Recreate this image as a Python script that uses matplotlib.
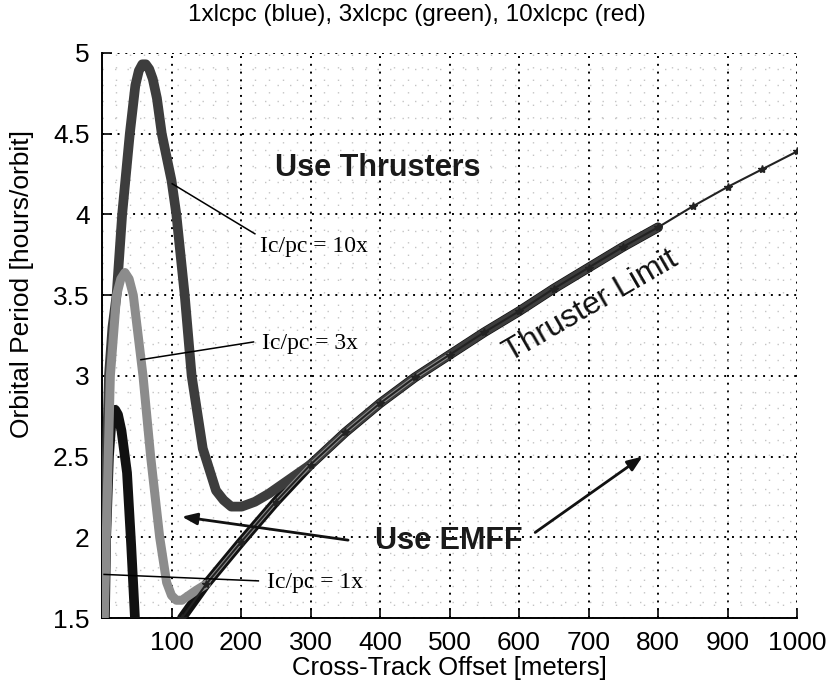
import matplotlib
matplotlib.use('Agg')
import matplotlib.pyplot as plt
import numpy as np
from matplotlib.ticker import MultipleLocator

# thruster limit line (cross-track offset [m], period [hours/orbit])
thrust_x = np.array([115, 150, 200, 250, 300, 350, 400, 450, 500, 550, 600, 650, 700, 750, 800, 850, 900, 950, 1000])
thrust_y = np.array([1.50, 1.71, 1.97, 2.22, 2.45, 2.65, 2.83, 2.99, 3.13, 3.27, 3.40, 3.54, 3.67, 3.80, 3.92, 4.05, 4.17, 4.28, 4.39])

# Ic/pc = 1x (blue) - hump near the y axis
one_x = np.array([4, 6, 10, 13, 16, 19, 23, 28, 36, 42, 48])
one_y = np.array([1.45, 2.0, 2.5, 2.68, 2.76, 2.79, 2.76, 2.66, 2.4, 1.95, 1.45])

# Ic/pc = 3x (green)
three_x = np.array([3, 9, 12, 21, 27, 33, 39, 45, 59, 70, 83, 93, 100, 107, 115, 125, 135, 150])
three_y = np.array([1.45, 2.5, 3.0, 3.5, 3.6, 3.64, 3.6, 3.5, 3.0, 2.5, 2.0, 1.72, 1.64, 1.61, 1.61, 1.64, 1.67, 1.71])

# Ic/pc = 10x (red)
ten_x = np.array([2, 7, 10, 15, 21, 29, 40, 48, 53, 58, 63, 68, 73, 79, 86, 100, 107, 119, 129, 145,
                  164, 175, 186, 201, 220, 240, 260, 280, 300])
ten_y = np.array([1.45, 2.5, 3.0, 3.3, 3.5, 4.0, 4.5, 4.8, 4.89, 4.93, 4.93, 4.9, 4.84, 4.72, 4.5, 4.21,
                  4.0, 3.5, 3.0, 2.55, 2.29, 2.23, 2.19, 2.19, 2.22, 2.27, 2.33, 2.39, 2.45])

x_ticks = [100, 200, 300, 400, 500, 600, 700, 800, 900, 1000]
y_ticks = [1.5, 2, 2.5, 3, 3.5, 4, 4.5, 5]
y_tick_labels = ['1.5', '2', '2.5', '3', '3.5', '4', '4.5', '5']

arial = ['Liberation Sans', 'DejaVu Sans']
times = ['Liberation Serif', 'DejaVu Serif']

fig = plt.figure(figsize=(8.27, 6.90), dpi=100)
ax = fig.add_axes([102 / 827, 72 / 690, 695 / 827, 565 / 690])

# curves follow the thruster limit once they meet it
tail1 = (thrust_x >= 115) & (thrust_x <= 800)
tail3 = (thrust_x >= 150) & (thrust_x <= 500)
tail10 = (thrust_x >= 300) & (thrust_x <= 800)

kw = dict(solid_capstyle='round', solid_joinstyle='round')
ax.plot(one_x, one_y, color='#111111', lw=7, zorder=3, **kw)
ax.plot(thrust_x[tail1], thrust_y[tail1], color='#111111', lw=7, zorder=3, **kw)
ax.plot(ten_x, ten_y, color='#3d3d3d', lw=7, zorder=4, **kw)
ax.plot(thrust_x[tail10], thrust_y[tail10], color='#3d3d3d', lw=6, zorder=4, **kw)
ax.plot(three_x, three_y, color='#8c8c8c', lw=6.5, zorder=5, **kw)
ax.plot(thrust_x[tail3], thrust_y[tail3], color='#8c8c8c', lw=3, zorder=5, **kw)
ax.plot(thrust_x, thrust_y, color='#222222', lw=1.5, marker='*', ms=6, zorder=6)

ax.set_xlim(0, 1000)
ax.set_ylim(1.5, 5)
ax.set_xticks(x_ticks)
ax.set_yticks(y_ticks)
ax.set_yticklabels(y_tick_labels)
ax.xaxis.set_minor_locator(MultipleLocator(20))
ax.yaxis.set_minor_locator(MultipleLocator(0.1))
ax.tick_params(which='major', direction='in', length=7, width=1.2, top=False, right=False,
               labelsize=19, pad=9)
ax.tick_params(which='minor', length=0)
for lab in ax.get_xticklabels() + ax.get_yticklabels():
    lab.set_family(arial)

ax.grid(which='minor', color='#c4c4c4', linestyle=(0, (1, 8)), lw=1.0)
ax.grid(which='major', color='black', linestyle=(0, (1, 3)), lw=1.4)
ax.set_axisbelow(True)
for s in ['top', 'right']:
    ax.spines[s].set_visible(False)
for s in ['left', 'bottom']:
    ax.spines[s].set_linewidth(1.4)

fig.text(417 / 827, 1 - 15 / 690, '1xlcpc (blue), 3xlcpc (green), 10xlcpc (red)',
         ha='center', va='center', fontsize=17.5, family=arial)
fig.text(449 / 827, 1 - 668 / 690, 'Cross-Track Offset [meters]',
         ha='center', va='center', fontsize=18.5, family=arial)
fig.text(22 / 827, 1 - 284 / 690, 'Orbital Period [hours/orbit]', rotation=90,
         ha='center', va='center', fontsize=19, family=arial)

# region labels
ax.text(397, 4.29, 'Use Thrusters', ha='center', va='center', fontsize=22,
        fontweight='bold', family=arial, color='#1a1a1a', zorder=7)
ax.text(499, 1.98, 'Use EMFF', ha='center', va='center', fontsize=22,
        fontweight='bold', family=arial, color='#1a1a1a', zorder=7)
ax.text(703, 3.43, 'Thruster Limit', ha='center', va='center', fontsize=23,
        rotation=30, family=arial, color='#111111', zorder=7)

arrow = dict(arrowstyle='-|>,head_length=0.9,head_width=0.35', color='#111111', lw=2)
ax.annotate('', xy=(111, 2.13), xytext=(358, 1.98), arrowprops=arrow, zorder=7)
ax.annotate('', xy=(781, 2.51), xytext=(620, 2.02), arrowprops=arrow, zorder=7)

# curve callouts
ax.plot([101, 220], [4.19, 3.88], color='black', lw=1.1, zorder=7)
ax.text(227, 3.80, 'Ic/pc = 10x', ha='left', va='center', fontsize=17, family=times, zorder=7)
ax.plot([56, 218], [3.10, 3.21], color='black', lw=1.1, zorder=7)
ax.text(230, 3.20, 'Ic/pc = 3x', ha='left', va='center', fontsize=17, family=times, zorder=7)
ax.plot([3, 225], [1.77, 1.73], color='black', lw=1.1, zorder=7)
ax.text(238, 1.72, 'Ic/pc = 1x', ha='left', va='center', fontsize=17, family=times, zorder=7)

fig.savefig('out.png', dpi=100)
